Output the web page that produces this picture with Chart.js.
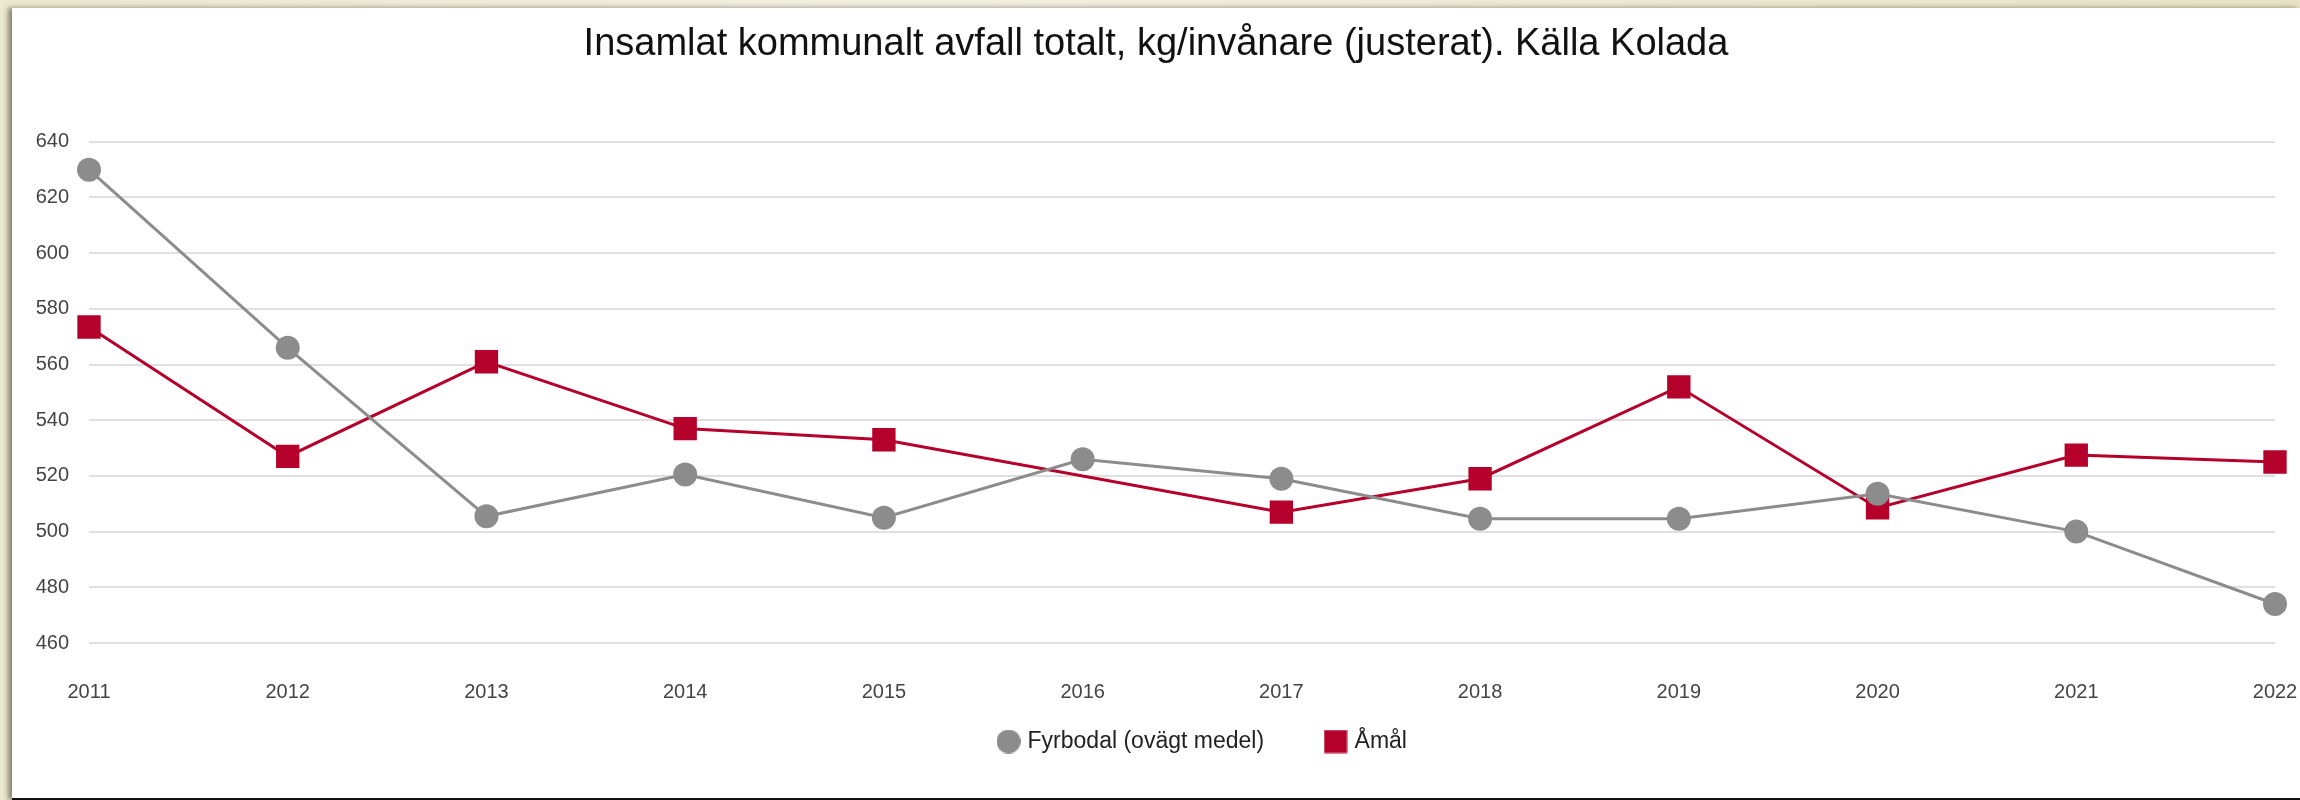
<!DOCTYPE html>
<html>
<head>
<meta charset="utf-8">
<script src="https://cdn.jsdelivr.net/npm/chart.js@4.4.1/dist/chart.umd.min.js"></script>
<style>
  html, body { margin: 0; padding: 0; }
  body {
    width: 2300px; height: 800px; overflow: hidden; position: relative;
    background: linear-gradient(90deg, #ebe8cf 0%, #f1efdf 40%, #e8e3c6 100%);
    font-family: "Liberation Sans", Arial, sans-serif;
  }
  #panel {
    position: absolute; left: 12px; top: 8px; width: 2288px; height: 790px;
    background: #fff; overflow: hidden;
    border-bottom: 2px solid #111;
    box-shadow: -4px 0 5px rgba(40, 38, 20, 0.5);
  }
  #chart { display: block; }
</style>
</head>
<body>
<div id="panel"><canvas id="chart" width="2288" height="822"></canvas></div>
<script>
// Data
const years = ['2011', '2012', '2013', '2014', '2015', '2016', '2017', '2018', '2019', '2020', '2021', '2022'];
const fyrbodal = [630, 566, 505.5, 520.5, 505, 526, 519, 504.6, 504.6, 513.6, 500, 474];
const amal = [573.5, 527, 561, 537, 533, null, 507, 519, 552, 508.5, 527.5, 525];
const yTicks = { min: 460, max: 640, step: 20 };

const grey = '#8c8c8c';
const red = '#b4002a';
const tickFont = { family: 'Liberation Sans, Arial, sans-serif', size: 20 };

// legend symbols, sized like the original
function legendIcon(shape, color) {
    const c = document.createElement('canvas');
    c.width = 24; c.height = 24;
    const g = c.getContext('2d');
    g.fillStyle = color;
    if (shape === 'circle') {
        g.beginPath(); g.arc(12, 12, 12, 0, Math.PI * 2); g.fill();
    } else {
        g.fillRect(0.5, 0.5, 23, 23);
    }
    return c;
}
const icons = [legendIcon('circle', grey), legendIcon('rect', red)];

// the original legend sits off-centre and close to the axis labels
const legendPlace = {
    id: 'legendPlace',
    afterLayout(c) {
        const lg = c.legend;
        const h = lg.height;
        lg.top = 658; lg.bottom = 658 + h;
        lg.left += 48; lg.right += 48;
    }
};

const chart = new Chart(document.getElementById('chart'), {
    type: 'line',
    data: {
        labels: years,
        datasets: [{
            label: 'Fyrbodal (ovägt medel)',
            data: fyrbodal,
            borderColor: grey,
            backgroundColor: grey,
            borderWidth: 3,
            pointStyle: 'circle',
            pointRadius: 12,
            pointBorderWidth: 0,
            tension: 0
        }, {
            label: 'Åmål',
            data: amal,
            borderColor: red,
            backgroundColor: red,
            borderWidth: 3,
            pointStyle: 'rect',
            pointRadius: 16.5,
            pointBorderWidth: 0,
            spanGaps: true,
            tension: 0
        }]
    },
    options: {
        responsive: false,
        animation: false,
        layout: { padding: 0 },
        plugins: {
            title: {
                display: true,
                text: 'Insamlat kommunalt avfall totalt, kg/invånare (justerat). Källa Kolada',
                color: '#111',
                font: { family: 'Liberation Sans, Arial, sans-serif', size: 38, weight: 'normal', lineHeight: 1.1 },
                padding: { top: 16, bottom: 76 }
            },
            legend: {
                position: 'bottom',
                labels: {
                    usePointStyle: true,
                    boxWidth: 15,
                    boxHeight: 15,
                    color: '#222',
                    font: { family: 'Liberation Sans, Arial, sans-serif', size: 23 },
                    padding: 64,
                    generateLabels(c) {
                        const items = Chart.defaults.plugins.legend.labels.generateLabels(c);
                        items.forEach((it, i) => { it.pointStyle = icons[i]; });
                        return items;
                    }
                }
            },
            tooltip: { enabled: false }
        },
        scales: {
            x: {
                grid: { display: false },
                border: { display: false },
                ticks: { color: '#444', font: tickFont, padding: 29, maxRotation: 0, autoSkip: false },
                afterFit: s => {
                    s.height = 90;
                    s.paddingLeft = 20;
                    s.paddingRight = 20;
                }
            },
            y: {
                min: yTicks.min,
                max: yTicks.max,
                grid: { color: '#e0e0e0', lineWidth: 2, drawTicks: false },
                border: { display: false },
                ticks: { stepSize: yTicks.step, color: '#444', font: tickFont, padding: 20 },
                afterFit: s => { s.width = 77; }
            },
            yRight: {
                type: 'linear',
                position: 'right',
                grid: { display: false },
                border: { display: false },
                ticks: { display: false },
                afterFit: s => { s.width = 25; }
            }
        }
    },
    plugins: [legendPlace]
});
</script>
</body>
</html>
